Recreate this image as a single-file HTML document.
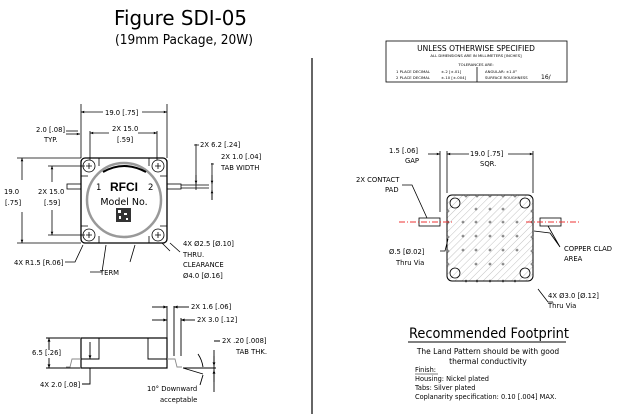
<!DOCTYPE html>
<html><head><meta charset="utf-8"><style>html,body{margin:0;padding:0;background:#fff}svg{display:block}</style></head><body>
<svg width="624" height="414" viewBox="0 0 624 414" xmlns="http://www.w3.org/2000/svg" font-family="'DejaVu Sans','Liberation Sans',sans-serif" fill="#000">
<defs>
<marker id="a" viewBox="0 0 10 10" refX="10" refY="5" markerWidth="6" markerHeight="4" orient="auto-start-reverse"><path d="M0,1L10,5L0,9z"/></marker>
<pattern id="h" width="5" height="5" patternUnits="userSpaceOnUse" patternTransform="rotate(45)"><line x1="0" y1="0" x2="0" y2="5" stroke="#bbb" stroke-width="0.9"/></pattern>
</defs>
<text x="114" y="25" font-size="20" textLength="133" lengthAdjust="spacingAndGlyphs">Figure SDI-05</text>
<text x="115" y="44" font-size="13" textLength="138" lengthAdjust="spacingAndGlyphs">(19mm Package, 20W)</text>
<line x1="312" y1="58" x2="312" y2="414" stroke="#000" stroke-width="1.2"/>

<g stroke="#000" fill="none" stroke-width="0.8">
<rect x="81" y="158" width="86" height="85" rx="4" stroke-width="1.3"/>
<circle cx="124" cy="200" r="37" stroke="#999" stroke-width="2.5"/>
<path d="M103,172 Q124,160 146,172" stroke-width="2"/>
<path d="M81,176 H88 M160,176 H167 M81,226 H88 M160,226 H167 M99,158 V166 M149,158 V166 M99,243 V236 M149,243 V236"/>
<circle cx="89" cy="166" r="6"/><circle cx="158" cy="166" r="6"/><circle cx="89" cy="235" r="6"/><circle cx="158" cy="235" r="6"/>
<path d="M86,166h6M89,163v6M155,166h6M158,163v6M86,235h6M89,232v6M155,235h6M158,232v6"/>
<rect x="67" y="184" width="14" height="5"/><rect x="167" y="184" width="14" height="5"/>
<path d="M181,185H209M181,188H209"/>
<path d="M81,158V104M167,158V104"/>
<line x1="81" y1="112" x2="103" y2="112" marker-start="url(#a)"/><line x1="142" y1="112" x2="167" y2="112" marker-end="url(#a)"/>
<path d="M90,160V131M157,160V131"/>
<line x1="90" y1="133" x2="109" y2="133" marker-start="url(#a)"/><line x1="138" y1="133" x2="157" y2="133" marker-end="url(#a)"/>
<path d="M66,131H78" /><line x1="66" y1="134" x2="80" y2="134" marker-end="url(#a)"/>
<path d="M17,158H81M17,243H81"/>
<line x1="22" y1="158" x2="22" y2="180" marker-start="url(#a)"/><line x1="22" y1="212" x2="22" y2="243" marker-end="url(#a)"/>
<path d="M48,166H85M48,235H85"/>
<line x1="52" y1="166" x2="52" y2="182" marker-start="url(#a)"/><line x1="52" y1="210" x2="52" y2="235" marker-end="url(#a)"/>
<path d="M196,144V190M212,163V200M194,145H199M211,164H214"/>
<line x1="196" y1="175" x2="196" y2="184" marker-end="url(#a)"/>
<line x1="212" y1="175" x2="212" y2="184" marker-end="url(#a)"/>
<line x1="212" y1="200" x2="212" y2="190" marker-end="url(#a)"/>
<path d="M65,262H75L83,245M130,262L135,245M170,251L162,243"/>
<path d="M90,272H102L106,245"/>
<path d="M180,252L170,243"/>
</g>
<rect x="116" y="208" width="15" height="14" fill="#333"/>
<rect x="118" y="210" width="3" height="3" fill="#fff"/><rect x="124" y="213" width="3" height="2" fill="#fff"/><rect x="119" y="216" width="2" height="3" fill="#fff"/><rect x="126" y="218" width="2" height="2" fill="#fff"/>
<text x="124" y="191" font-size="12" font-weight="bold" text-anchor="middle" font-family="'Liberation Sans',sans-serif">RFCI</text>
<text x="124" y="205" font-size="9.5" text-anchor="middle">Model No.</text>
<text x="96" y="190" font-size="8.5">1</text><text x="148" y="190" font-size="8.5">2</text>

<g font-size="6.8">
<text x="105" y="115">19.0 [.75]</text>
<text x="112" y="131">2X 15.0</text><text x="117" y="142">[.59]</text>
<text x="36" y="132">2.0 [.08]</text><text x="44" y="142">TYP.</text>
<text x="4" y="194">19.0</text><text x="5" y="205">[.75]</text>
<text x="38" y="194">2X 15.0</text><text x="44" y="205">[.59]</text>
<text x="200" y="147">2X 6.2 [.24]</text>
<text x="221" y="159">2X 1.0 [.04]</text><text x="221" y="170">TAB WIDTH</text>
<text x="14" y="265">4X R1.5 [R.06]</text>
<text x="100" y="275">TERM</text>
<text x="183" y="246">4X Ø2.5 [Ø.10]</text><text x="183" y="257">THRU.</text><text x="183" y="267">CLEARANCE</text><text x="183" y="278">Ø4.0 [Ø.16]</text>
</g>

<g stroke="#000" fill="none" stroke-width="0.9">
<rect x="81" y="338" width="86" height="30" stroke-width="1.2"/>
<path d="M81,359H99V338M167,359H148V338"/>
<path d="M81,359H72L70,367H66M167,359H175L177,367H182" stroke="#888"/>
<line x1="90" y1="342" x2="90" y2="359" marker-end="url(#a)"/>
<path d="M46,338H80M46,368H80"/>
<line x1="49" y1="338" x2="49" y2="350" marker-start="url(#a)"/><line x1="49" y1="358" x2="49" y2="368" marker-end="url(#a)"/>
<path d="M90,368V384H82"/>
<path d="M167,306V338M174,306V356M181,318V356"/>
<line x1="152" y1="307" x2="167" y2="307" marker-end="url(#a)"/><line x1="189" y1="307" x2="174" y2="307" marker-end="url(#a)"/>
<line x1="152" y1="320" x2="167" y2="320" marker-end="url(#a)"/><line x1="195" y1="320" x2="181" y2="320" marker-end="url(#a)"/>
<path d="M183,368H216M183,368L203,374M214,350V392M214,341H220"/>
<line x1="214" y1="356" x2="214" y2="366" marker-end="url(#a)"/>
<line x1="214" y1="382" x2="214" y2="370" marker-end="url(#a)"/>
<path d="M198,354Q202,360 203,367M200,385L203,375"/>
</g>
<g font-size="6.8">
<text x="191" y="309">2X 1.6 [.06]</text>
<text x="197" y="322">2X 3.0 [.12]</text>
<text x="32" y="355">6.5 [.26]</text>
<text x="40" y="387">4X 2.0 [.08]</text>
<text x="222" y="343">2X .20 [.008]</text><text x="236" y="354">TAB THK.</text>
<text x="147" y="391">10° Downward</text><text x="160" y="402">acceptable</text>
</g>

<g stroke="#000" fill="none" stroke-width="0.8">
<rect x="386" y="41" width="181" height="41"/>
<line x1="477" y1="67" x2="477" y2="82"/>
</g>
<text x="476" y="51" font-size="7.5" text-anchor="middle">UNLESS OTHERWISE SPECIFIED</text>
<g font-size="3.8">
<text x="476" y="57" text-anchor="middle">ALL DIMENSIONS ARE IN MILLIMETERS [INCHES]</text>
<text x="476" y="66" text-anchor="middle">TOLERANCES ARE:</text>
<text x="396" y="73">1 PLACE DECIMAL</text><text x="441" y="73">±.2  [±.01]</text>
<text x="396" y="79">2 PLACE DECIMAL</text><text x="441" y="79">±.10 [±.004]</text>
<text x="485" y="73">ANGULAR:  ±1.0°</text>
<text x="485" y="79">SURFACE ROUGHNESS</text>
</g>
<text x="541" y="79" font-size="6">16∕</text>

<rect x="447" y="195" width="86" height="86" rx="5" fill="url(#h)" stroke="#000" stroke-width="1"/>
<g fill="none" stroke="#000" stroke-width="0.8">
<circle cx="455" cy="203" r="5"/><circle cx="525" cy="203" r="5"/><circle cx="455" cy="273" r="5"/><circle cx="525" cy="273" r="5"/>
</g>
<g fill="none" stroke="#444" stroke-width="0.6">
<circle cx="466" cy="196" r="1"/><circle cx="477" cy="196" r="1"/><circle cx="490" cy="196" r="1"/><circle cx="503" cy="196" r="1"/><circle cx="515" cy="196" r="1"/>
<circle cx="448" cy="211" r="1"/><circle cx="448" cy="222" r="1"/><circle cx="448" cy="237" r="1"/><circle cx="448" cy="251" r="1"/><circle cx="448" cy="264" r="1"/>
<circle cx="532" cy="211" r="1"/><circle cx="532" cy="222" r="1"/><circle cx="532" cy="237" r="1"/><circle cx="532" cy="251" r="1"/><circle cx="532" cy="264" r="1"/>
<circle cx="466" cy="281" r="1"/><circle cx="477" cy="281" r="1"/><circle cx="490" cy="281" r="1"/><circle cx="503" cy="281" r="1"/><circle cx="515" cy="281" r="1"/>
<circle cx="476" cy="209" r="1"/><circle cx="490" cy="209" r="1"/><circle cx="503" cy="209" r="1"/>
<circle cx="463" cy="222" r="1"/><circle cx="476" cy="222" r="1"/><circle cx="490" cy="222" r="1"/><circle cx="503" cy="222" r="1"/><circle cx="517" cy="222" r="1"/>
<circle cx="463" cy="236" r="1"/><circle cx="476" cy="236" r="1"/><circle cx="490" cy="236" r="1"/><circle cx="503" cy="236" r="1"/><circle cx="517" cy="236" r="1"/>
<circle cx="463" cy="250" r="1"/><circle cx="476" cy="250" r="1"/><circle cx="490" cy="250" r="1"/><circle cx="503" cy="250" r="1"/><circle cx="517" cy="250" r="1"/>
<circle cx="476" cy="264" r="1"/><circle cx="490" cy="264" r="1"/><circle cx="503" cy="264" r="1"/>
</g>
<g fill="none" stroke="#000" stroke-width="0.8">
<rect x="419" y="218" width="21" height="8"/><rect x="540" y="218" width="21" height="8"/>
</g>
<line x1="399" y1="222" x2="452" y2="222" stroke="#e33" stroke-width="0.9" stroke-dasharray="6,2,1,2"/>
<line x1="526" y1="222" x2="580" y2="222" stroke="#e33" stroke-width="0.9" stroke-dasharray="6,2,1,2"/>
<g stroke="#000" fill="none" stroke-width="0.8">
<path d="M440,151V212M447,151V193M533,151V193"/>
<line x1="428" y1="154" x2="440" y2="154" marker-end="url(#a)"/>
<line x1="469" y1="154" x2="447" y2="154" marker-end="url(#a)"/>
<line x1="508" y1="154" x2="533" y2="154" marker-end="url(#a)"/>
<path d="M402,185H412L427,218"/>
<path d="M440,251H445L448,239"/>
<path d="M560,247L550,233L534,231M560,247L548,226"/>
<path d="M538,289L548,302H553"/>
</g>
<g font-size="6.8">
<text x="389" y="153">1.5 [.06]</text><text x="405" y="163">GAP</text>
<text x="470" y="156">19.0 [.75]</text><text x="480" y="166">SQR.</text>
<text x="356" y="182">2X CONTACT</text><text x="385" y="192">PAD</text>
<text x="389" y="254">Ø.5 [Ø.02]</text><text x="396" y="265">Thru Via</text>
<text x="564" y="251">COPPER CLAD</text><text x="564" y="261">AREA</text>
<text x="548" y="298">4X Ø3.0 [Ø.12]</text><text x="548" y="308">Thru Via</text>
</g>
<text x="489" y="338" font-size="14" text-anchor="middle" textLength="160" lengthAdjust="spacingAndGlyphs">Recommended Footprint</text>
<line x1="408" y1="342" x2="566" y2="342" stroke="#000" stroke-width="0.9"/>
<g font-size="7.5">
<text x="488" y="354" text-anchor="middle">The Land Pattern should be with good</text>
<text x="488" y="364" text-anchor="middle">thermal conductivity</text>
</g>
<g font-size="6.6">
<text x="415" y="372">Finish:</text>
<line x1="415" y1="374" x2="438" y2="374" stroke="#000" stroke-width="0.5"/>
<text x="415" y="381">Housing: Nickel plated</text>
<text x="415" y="390">Tabs: Silver plated</text>
<text x="415" y="399">Coplanarity specification: 0.10 [.004] MAX.</text>
</g>
</svg>
</body></html>
